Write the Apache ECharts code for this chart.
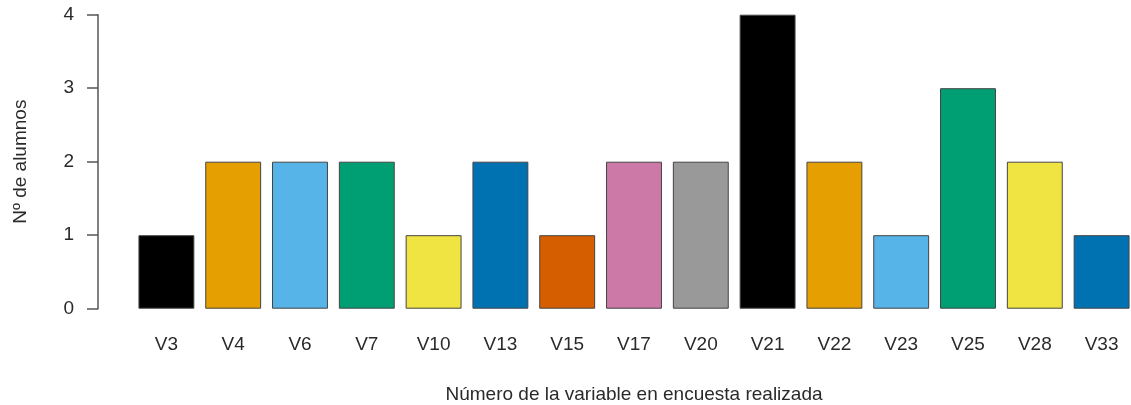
<!DOCTYPE html>
<html>
<head>
<meta charset="utf-8">
<script src="https://cdn.jsdelivr.net/npm/echarts@6/dist/echarts.min.js"></script>
<style>
  html, body { margin: 0; padding: 0; background: #fff; }
  #chart { width: 1131px; height: 405px; }
</style>
</head>
<body>
<div id="chart"></div>
<script>
// datos
var categories = ['V3','V4','V6','V7','V10','V13','V15','V17','V20','V21','V22','V23','V25','V28','V33']
var values = [1,2,2,2,1,2,1,2,2,4,2,1,3,2,1]
var barColors = ['#000000','#E69F00','#56B4E9','#009E73','#F0E442','#0072B2','#D55E00','#CC79A7','#999999',
                 '#000000','#E69F00','#56B4E9','#009E73','#F0E442','#0072B2']
var yTicks = [0,1,2,3,4]

var chart = echarts.init(document.getElementById('chart'))
var font = '"Liberation Sans", Arial, sans-serif'

var option = {
  animation: false,
  grid: {
    left: 133,
    top: 14.7,
    width: 1002,
    height: 294,
    outerBoundsMode: 'none',
    containLabel: false
  },
  xAxis: {
    type: 'category',
    data: categories,
    name: 'Número de la variable en encuesta realizada',
    nameLocation: 'middle',
    nameGap: 77,
    nameTextStyle: { color: '#2a2a2a', fontSize: 19, fontFamily: font },
    axisLine: { show: false },
    axisTick: { show: false },
    axisLabel: { color: '#2a2a2a', fontSize: 19, fontFamily: font, margin: 27, interval: 0 }
  },
  yAxis: {
    type: 'value',
    min: yTicks[0],
    max: yTicks[yTicks.length - 1],
    interval: 1,
    offset: 35,
    name: 'Nº de alumnos',
    nameLocation: 'middle',
    nameGap: 68,
    nameTextStyle: { color: '#2a2a2a', fontSize: 19, fontFamily: font },
    splitLine: { show: false },
    axisLine: { show: true, lineStyle: { color: '#555', width: 1.5 } },
    axisTick: { show: true, length: 11, lineStyle: { color: '#555', width: 1.5 } },
    axisLabel: { color: '#2a2a2a', fontSize: 19, fontFamily: font, margin: 24 }
  },
  series: [{
    type: 'bar',
    barCategoryGap: '16.3%',
    data: values.map(function (v, i) {
      return { value: v, itemStyle: { color: barColors[i] } }
    }),
    itemStyle: { borderColor: '#444', borderWidth: 1 }
  }]
}
chart.setOption(option)
</script>
</body>
</html>
